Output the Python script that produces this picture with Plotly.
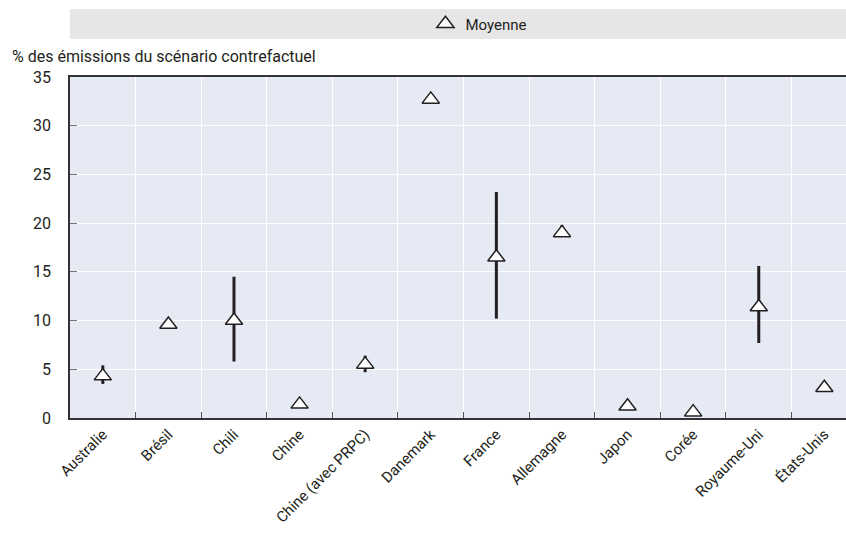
import plotly.graph_objects as go

categories = ["Australie", "Brésil", "Chili", "Chine", "Chine (avec PRPC)", "Danemark",
              "France", "Allemagne", "Japon", "Corée", "Royaume-Uni", "États-Unis"]
mean = [4.3, 9.6, 10.0, 1.4, 5.5, 32.7, 16.5, 19.0, 1.2, 0.6, 11.4, 3.1]
low = [3.5, 9.6, 5.8, 1.4, 4.7, 32.7, 10.2, 18.6, 1.2, 0.6, 7.7, 3.1]
high = [5.4, 9.6, 14.5, 1.4, 6.4, 32.7, 23.2, 19.8, 1.2, 0.6, 15.6, 3.1]
y_ticks = [0, 5, 10, 15, 20, 25, 30, 35]

plus = [h - m for h, m in zip(high, mean)]
minus = [m - l for m, l in zip(mean, low)]

FONT = "Roboto, sans-serif"
DARK = "#231f20"

fig = go.Figure()
fig.add_trace(go.Scatter(
    x=categories, y=mean, mode="markers", name="Moyenne",
    marker=dict(symbol="triangle-up", size=15, color="white",
                line=dict(color=DARK, width=1.5)),
    error_y=dict(type="data", array=plus, arrayminus=minus, symmetric=False,
                 thickness=3, width=0, color=DARK),
))

W, H = 846, 540
L, R, T, B = 70, 0, 77, 122
plot_h = H - T - B

fig.update_layout(
    width=W, height=H,
    margin=dict(l=L, r=R, t=T, b=B),
    paper_bgcolor="white",
    plot_bgcolor="#e6eaf5",
    font=dict(family=FONT, size=16, color=DARK),
    showlegend=True,
    legend=dict(orientation="h", x=0.527, y=1 + 53 / plot_h, xanchor="center",
                yanchor="middle", bgcolor="rgba(0,0,0,0)", font=dict(size=15)),
    xaxis=dict(
        type="category", range=[-0.5, 11.33],
        showline=True, linecolor="#333333", linewidth=1.5, mirror=True,
        showgrid=True, gridcolor="white", gridwidth=1.3,
        tickson="boundaries", ticks="inside", ticklen=6, tickcolor="#555555",
        tickangle=-45, tickfont=dict(size=15),
    ),
    yaxis=dict(
        range=[0, 35], tickvals=y_ticks,
        showline=True, linecolor="#333333", linewidth=1.5,
        showgrid=True, gridcolor="white", gridwidth=1.3,
        ticks="inside", ticklen=7, tickcolor="#777777",
        ticklabelstandoff=14, zeroline=False, tickfont=dict(size=16),
    ),
    shapes=[dict(type="rect", xref="paper", yref="paper",
                 x0=0, x1=1.02, y0=1 + (T - 39) / plot_h, y1=1 + (T - 9) / plot_h,
                 fillcolor="#e6e6e6", line=dict(width=0), layer="below")],
    annotations=[dict(text="% des émissions du scénario contrefactuel",
                      xref="paper", yref="paper", x=(10 - L) / (W - L), y=1 + (T - 56) / plot_h,
                      xanchor="left", yanchor="middle", showarrow=False,
                      font=dict(size=16))],
)

post = "document.body.style.margin = '0';"

fig.write_html("out.html", post_script=post, config={"displayModeBar": False})
